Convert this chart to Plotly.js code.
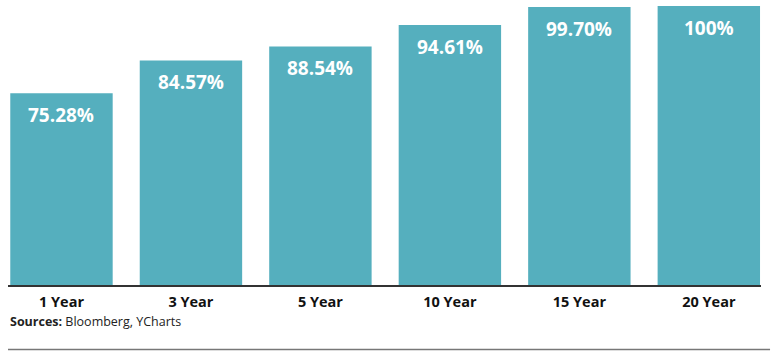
<!DOCTYPE html>
<html>
<head>
<meta charset="utf-8">
<script src="https://cdn.plot.ly/plotly-3.0.1.min.js"></script>
<style>html,body{margin:0;padding:0;background:#fff;}#chart{width:780px;height:358px;}</style>
</head>
<body>
<div id="chart"></div>
<script>
var categories = ["1 Year", "3 Year", "5 Year", "10 Year", "15 Year", "20 Year"];
var values = [75.28, 84.57, 88.54, 94.61, 99.70, 100];
var valueLabels = ["75.28%", "84.57%", "88.54%", "94.61%", "99.70%", "100%"];
var sourceText = "<b>Sources:</b> Bloomberg, YCharts";

var barColor = "#55afbe";

var trace = {
  type: "bar",
  x: categories,
  y: values,
  marker: {color: barColor},
  hoverinfo: "skip"
};

var annotations = categories.map(function (c, i) {
  return {
    x: c, y: values[i], xref: "x", yref: "y",
    text: valueLabels[i], showarrow: false,
    yanchor: "top", yshift: -7,
    font: {family: "Open Sans", size: 19, color: "#ffffff", weight: 700}
  };
});
annotations.push({
  x: 0, y: -0.132, xref: "paper", yref: "paper",
  xanchor: "left", yanchor: "middle", showarrow: false,
  text: sourceText,
  font: {family: "Open Sans", size: 12.5, color: "#222222"}
});

var layout = {
  width: 780, height: 358,
  margin: {l: 8, r: 19, t: 6, b: 73},
  paper_bgcolor: "#ffffff", plot_bgcolor: "#ffffff",
  bargap: 0.209,
  showlegend: false,
  xaxis: {
    type: "category",
    range: [-0.413, 5.403],
    showline: true, linecolor: "#333333", linewidth: 1.5,
    ticks: "", showgrid: false, zeroline: false,
    tickfont: {family: "Open Sans", size: 14.5, color: "#111111", weight: 700},
    ticklabelstandoff: 3
  },
  yaxis: {
    range: [21, 100],
    visible: false, showgrid: false, zeroline: false
  },
  annotations: annotations,
  shapes: [{
    type: "line", xref: "paper", yref: "paper",
    x0: 0, x1: 1.012, y0: -0.231, y1: -0.231,
    line: {color: "#777777", width: 1.5}
  }]
};

Plotly.newPlot("chart", [trace], layout, {staticPlot: true, displayModeBar: false});
</script>
</body>
</html>
